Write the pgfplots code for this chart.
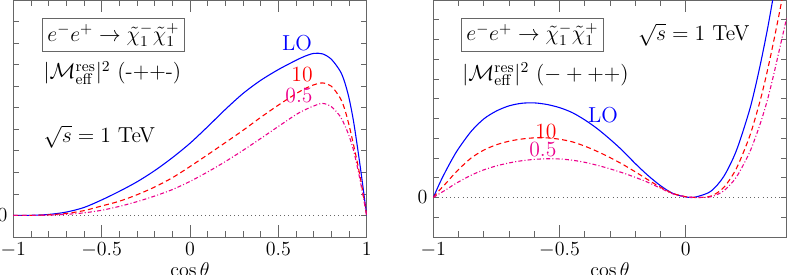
\RequirePackage{fix-cm}
\documentclass[border=0pt]{standalone}
\usepackage{pgfplots}
\pgfplotsset{compat=1.18}
\pgfplotstableread{
x LO R M
-1.0 0 0 0
-0.9 0.006 0.004 0.002
-0.8 0.046 0.028 0.015
-0.7 0.157 0.095 0.052
-0.6 0.37 0.224 0.12
-0.5 0.72 0.44 0.24
-0.4 1.12 0.66 0.42
-0.3 1.56 0.96 0.64
-0.2 2.08 1.32 0.9
-0.1 2.68 1.75 1.2
0.0 3.35 2.27 1.58
0.1 4.12 2.82 2.02
0.2 4.92 3.38 2.5
0.3 5.66 3.95 3.02
0.4 6.27 4.55 3.57
0.5 6.77 5.12 4.13
0.6 7.2 5.65 4.68
0.65 7.39 5.88 4.9
0.7 7.52 6.06 5.08
0.75 7.5 6.15 5.2
0.8 7.25 6.0 5.05
0.85 6.7 5.45 4.6
0.875 6.2 4.95 4.2
0.9 5.45 4.2 3.7
0.925 4.4 3.3 3.05
0.95 3.05 2.35 2.15
0.975 1.58 1.25 1.12
1.0 0 0 0
}\tabLeft
\pgfplotstableread{
x LO R M
-1.00 0 0 0
-0.975 0.72 0.38 0.2
-0.95 1.36 0.72 0.39
-0.925 1.95 1.08 0.6
-0.90 2.48 1.42 0.79
-0.85 3.35 2.0 1.13
-0.80 3.98 2.4 1.4
-0.75 4.38 2.67 1.6
-0.70 4.64 2.85 1.75
-0.65 4.77 2.96 1.86
-0.60 4.79 3.02 1.93
-0.55 4.71 3.02 1.96
-0.50 4.55 2.95 1.95
-0.45 4.3 2.82 1.89
-0.40 3.93 2.6 1.78
-0.35 3.48 2.33 1.63
-0.30 2.95 2.02 1.45
-0.25 2.37 1.68 1.25
-0.20 1.72 1.3 1.02
-0.15 1.12 0.9 0.77
-0.10 0.6 0.52 0.47
-0.05 0.2 0.2 0.18
0.00 0.03 0.04 0.03
0.025 0.0 0.01 0.01
0.05 0.06 0.0 0.0
0.10 0.32 0.07 0.04
0.15 1.05 0.5 0.33
0.20 2.35 1.45 1.02
0.25 4.3 2.98 2.2
0.275 5.55 4.0 3.0
0.30 7.0 5.15 3.92
0.325 8.6 6.5 5.0
0.35 10.4 8.0 6.3
0.375 12.3 9.6 7.7
0.40 14.3 11.3 9.1
}\tabRight
\begin{document}
\begin{tikzpicture}[font=\fontsize{13}{15}\selectfont]
\pgfplotsset{myax/.style={
  scale only axis, width=212pt, height=142.2pt,
  ymax=10,
  axis line style={black!60},
  tick style={black!60, thin},
  major tick length=7pt, minor tick length=3.5pt,
  ytick={0}, yticklabels={0},
  ytick style={/pgfplots/major tick length=3.5pt},
  minor x tick num=4,
  tick label style={font=\fontsize{12}{14}\selectfont},
  xlabel={$\cos\theta$},
  label style={font=\fontsize{12}{14}\selectfont},
  xlabel style={yshift=4pt},
  clip=true,
}}
\begin{axis}[myax, name=L, at={(0,0)}, anchor=south west,
  xmin=-1, xmax=1, ymin=-1, xtick={-1,-0.5,0,0.5,1}, minor ytick={1,2,...,10}]
\addplot[black!60, dotted, line width=0.5pt] coordinates {(-1,0) (1,0)};
\addplot[blue, line width=0.65pt, smooth, tension=0.5] table[x=x,y=LO] {\tabLeft};
\addplot[red, line width=0.65pt, smooth, tension=0.5, dash pattern=on 3pt off 2pt] table[x=x,y=R] {\tabLeft};
\addplot[magenta, line width=0.65pt, smooth, tension=0.5, dash pattern=on 2.4pt off 1.3pt on 0.6pt off 1.3pt] table[x=x,y=M] {\tabLeft};
\node[draw=black!60, thin, fill=white, anchor=west, inner sep=3pt] at (axis cs:-0.837,8.38) {$e^-e^+\to\tilde\chi_1^-\tilde\chi_1^+$};
\node[anchor=west, inner sep=0pt] at (axis cs:-0.83,6.62) {$|\mathcal{M}^{\mathrm{res}}_{\mathrm{eff}}|^2$ (-++-)};
\node[anchor=west, inner sep=0pt] at (axis cs:-0.83,3.66) {$\sqrt{s}=1$ TeV};
\node[blue, inner sep=0pt] at (axis cs:0.606,8.01) {LO};
\node[red, inner sep=0pt] at (axis cs:0.634,6.53) {10};
\node[magenta, inner sep=0pt] at (axis cs:0.617,5.56) {0.5};
\end{axis}
\begin{axis}[myax, name=R, at={(252pt,0)}, anchor=south west,
  xmin=-1, xmax=0.4, ymin=-2, xtick={-1,-0.5,0}, minor ytick={-1,1,2,...,10}]
\addplot[black!60, dotted, line width=0.5pt] coordinates {(-1,0) (0.4,0)};
\addplot[blue, line width=0.65pt, smooth, tension=0.5] table[x=x,y=LO] {\tabRight};
\addplot[red, line width=0.65pt, smooth, tension=0.5, dash pattern=on 3pt off 2pt] table[x=x,y=R] {\tabRight};
\addplot[magenta, line width=0.65pt, smooth, tension=0.5, dash pattern=on 2.4pt off 1.3pt on 0.6pt off 1.3pt] table[x=x,y=M] {\tabRight};
\node[draw=black!60, thin, fill=white, anchor=west, inner sep=3pt] at (axis cs:-0.890,8.25) {$e^-e^+\to\tilde\chi_1^-\tilde\chi_1^+$};
\node[anchor=west, inner sep=0pt] at (axis cs:-0.886,6.23) {$|\mathcal{M}^{\mathrm{res}}_{\mathrm{eff}}|^2$ $(-+++)$};
\node[anchor=west, inner sep=0pt] at (axis cs:-0.19,8.25) {$\sqrt{s}=1$ TeV};
\node[blue, inner sep=0pt] at (axis cs:-0.328,4.15) {LO};
\node[red, inner sep=0pt] at (axis cs:-0.554,3.34) {10};
\node[magenta, inner sep=0pt] at (axis cs:-0.566,2.43) {0.5};
\end{axis}
\pgfresetboundingbox
\path (-8pt,-22.8pt) rectangle (465.4pt,142.2pt);
\end{tikzpicture}
\end{document}
